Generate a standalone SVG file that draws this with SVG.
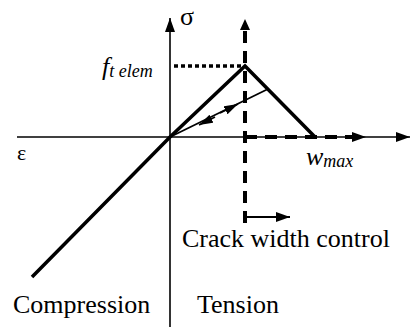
<svg xmlns="http://www.w3.org/2000/svg" width="413" height="327" viewBox="0 0 413 327">
<style>
text{font-family:'Liberation Serif','DejaVu Serif',serif;fill:#000}
.i{font-style:italic}
.ax{stroke:#000;stroke-width:1.6;fill:none}
.th{stroke:#000;stroke-width:3.5;fill:none;stroke-linecap:butt}
.ds{stroke:#000;stroke-width:4;fill:none;stroke-dasharray:12 8}
.dt{stroke:#000;stroke-width:3.5;fill:none;stroke-dasharray:4 3}
.thin{stroke:#000;stroke-width:1.8;fill:none}
</style>
<defs>
<marker id="ahs" markerWidth="14" markerHeight="10" refX="14" refY="5" orient="auto" markerUnits="userSpaceOnUse">
<path d="M0,0 L14,5 L0,10 Z" fill="#000"/>
</marker>
<marker id="ahm" markerWidth="14" markerHeight="9" refX="14" refY="4.5" orient="auto" markerUnits="userSpaceOnUse">
<path d="M0,0 L14,4.5 L0,9 Z" fill="#000"/>
</marker>
</defs>
<g id="connectors">
<line id="axis-x" class="ax" x1="17" y1="137" x2="410" y2="137" marker-end="url(#ahs)"/>
<line id="axis-y" class="ax" x1="170" y1="327" x2="170" y2="18" marker-end="url(#ahs)"/>
<polyline id="curve" class="th" points="32,277 170,137 245,66 315,137"/>
<line id="peak-dots" class="dt" x1="174" y1="66" x2="243" y2="66"/>
<line id="dash-v" class="ds" x1="245" y1="223" x2="245" y2="30"/>
<path d="M240,30 L245,19 L250,30 Z" fill="#000"/>
<line id="dash-h" class="ds" x1="245" y1="137" x2="352" y2="137" stroke-dasharray="10 7"/>
<path d="M352,132 L366,137 L352,142 Z" fill="#000"/>
<line id="unload" class="thin" x1="170" y1="137" x2="268" y2="89"/>
<line class="thin" x1="220" y1="113" x2="238" y2="104" marker-end="url(#ahm)"/>
<line class="thin" x1="215" y1="117" x2="199" y2="125" marker-end="url(#ahm)"/>
<line id="crack-arrow" class="thin" x1="245" y1="217" x2="290" y2="217" marker-end="url(#ahs)"/>
</g>
<g id="label-sigma"><text x="180" y="25" font-size="26">σ</text></g>
<g id="label-ft"><text class="i" x="102" y="75" font-size="26">f<tspan font-size="18" dy="2">t elem</tspan></text></g>
<g id="label-eps"><text x="17" y="160" font-size="22">ε</text></g>
<g id="label-wmax"><text class="i" x="306" y="165" font-size="26">w<tspan font-size="18" dy="2">max</tspan></text></g>
<g id="label-crack"><text x="182" y="247" font-size="26">Crack width control</text></g>
<g id="label-comp"><text x="13" y="313" font-size="26">Compression</text></g>
<g id="label-tens"><text x="197" y="313" font-size="26">Tension</text></g>
</svg>
